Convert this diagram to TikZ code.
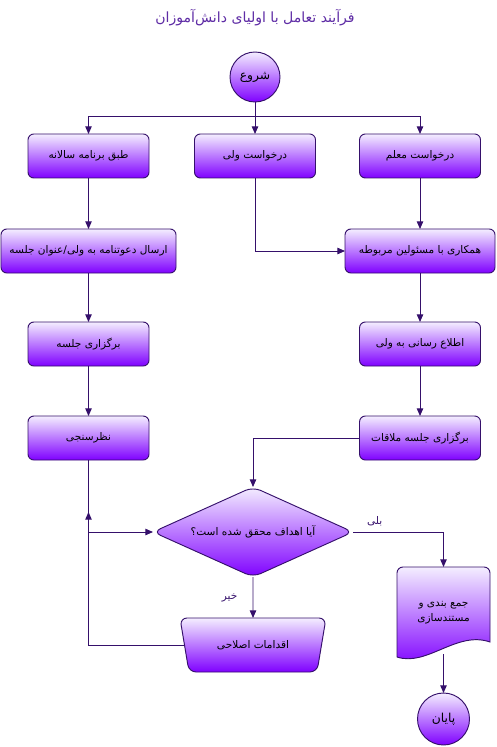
\documentclass[tikz,border=0pt]{standalone}
\usepackage{fontspec}
\usepackage{tikz}
\usepackage{xcolor}
\usetikzlibrary{positioning, arrows.meta, shapes.geometric, backgrounds}
\newfontfamily\arabicfont[Script=Arabic]{DejaVu Sans}
\TeXXeTstate=1
\newcommand{\fatxt}[1]{\beginR #1\endR}
\definecolor{Flow_Top}{HTML}{F4EEFF}
\definecolor{Flow_Bottom}{HTML}{7F00FF}
\definecolor{Flow_Line}{HTML}{35106B}
\definecolor{Flow_Title}{HTML}{5E2CA5}

\begin{document}
\begin{tikzpicture}[
  every node/.style={font=\arabicfont\fontsize{9}{13}\selectfont, inner sep=2pt, outer sep=0pt},
  fill step/.style={draw=Flow_Line, line width=0.8pt, top color=Flow_Top, bottom color=Flow_Bottom},
  box/.style={fill step, rounded corners=5pt, minimum height=1.32cm, minimum width=3.63cm},
  wide box/.style={box, minimum width=5.25cm},
  mid box/.style={box, minimum width=4.5cm},
  terminal/.style={fill step, circle, minimum size=1.5cm, font=\arabicfont\fontsize{10.5}{12}\selectfont},
  decision/.style={fill step, diamond, rounded corners=7pt, minimum width=6cm, minimum height=2.7cm, aspect=2.2, inner sep=0pt},
  manual/.style={fill step, trapezium, shape border rotate=180, trapezium angle=69, trapezium stretches=true, rounded corners=6pt, minimum width=4.41cm, minimum height=1.62cm},
  wire/.style={line width=0.8pt, Flow_Line},
  arr/.style={wire, -{Triangle[length=6.5pt, width=5.5pt]}}
]
  \useasboundingbox (0,0) rectangle (14.88,-22.41);

  % Title
  \node[font=\arabicfont\fontsize{12}{14}\selectfont, text=Flow_Title] (title) at (7.65,-0.54) {\fatxt{فرآیند تعامل با اولیای دانش‌آموزان}};

  % Start and the three triggers
  \node[terminal] (start) at (7.65,-2.31) {\fatxt{شروع}};
  \node[box] (annual) at (2.655,-4.68) {\fatxt{طبق برنامه سالانه}};
  \node[box] (parreq) at (7.65,-4.68) {\fatxt{درخواست ولی}};
  \node[box] (tchreq) at (12.6,-4.68) {\fatxt{درخواست معلم}};

  % Left column
  \node[wide box, below=1.53cm of annual] (invite) {\fatxt{ارسال دعوتنامه به ولی/عنوان جلسه}};
  \node[box, below=1.47cm of invite] (session) {\fatxt{برگزاری جلسه}};
  \node[box, below=1.5cm of session] (survey) {\fatxt{نظرسنجی}};

  % Right column
  \node[mid box, below=1.53cm of tchreq] (coop) {\fatxt{همکاری با مسئولین مربوطه}};
  \node[box, below=1.47cm of coop] (inform) {\fatxt{اطلاع رسانی به ولی}};
  \node[box, below=1.5cm of inform] (meeting) {\fatxt{برگزاری جلسه ملاقات}};

  % Decision and outcomes
  \node[decision] (goal) at (7.59,-15.96) {\fatxt{آیا اهداف محقق شده است؟}};
  \node[manual] (fix) at (7.59,-19.35) {\fatxt{اقدامات اصلاحی}};
  \node[align=center, minimum width=2.79cm, minimum height=2.76cm] (docu) at (13.305,-18.39) {\fatxt{جمع بندی و}\\\fatxt{مستندسازی}};
  \begin{scope}[on background layer]
    \draw[fill step] ([yshift=0.06cm]docu.south west) -- ([yshift=-0.18cm]docu.north west)
      arc[start angle=180, end angle=90, radius=0.18cm] -- ([xshift=-0.18cm]docu.north east)
      arc[start angle=90, end angle=0, radius=0.18cm] -- ([yshift=0.51cm]docu.south east)
      .. controls +(-1.0,0.35) and +(0.9,-0.3) .. ([yshift=0.06cm]docu.south west) -- cycle;
  \end{scope}
  \node[terminal, minimum size=1.56cm] (finish) at (13.305,-21.57) {\fatxt{پایان}};

  % Connections
  \coordinate (split) at (7.65,-3.48);
  \draw[wire] (start.south) -- (split);
  \draw[arr] (split) -| (annual.north);
  \draw[arr] (split) -- (parreq.north);
  \draw[arr] (split) -| (tchreq.north);

  \draw[arr] (annual.south) -- (invite.north);
  \draw[arr] (invite.south) -- (session.north);
  \draw[arr] (session.south) -- (survey.north);

  \draw[arr] (parreq.south) |- (coop.west);
  \draw[arr] (tchreq.south) -- (coop.north);
  \draw[arr] (coop.south) -- (inform.north);
  \draw[arr] (inform.south) -- (meeting.north);

  \draw[arr] (meeting.west) -| (goal.north);
  \draw[arr] (survey.south) |- (goal.west);
  \draw[arr] (goal.east) -| node[above, pos=0.12, yshift=0.12cm] {\fatxt{بلی}} (docu.north);
  \draw[arr] (goal.south) -- node[left, pos=0.5, xshift=-0.4cm] {\fatxt{خیر}} (fix.north);

  % Loop back from corrective actions
  \coordinate (back) at (2.655,-15.36);
  \draw[arr] (fix.west) -| (back);
  \draw[arr] ([yshift=0.15cm]docu.south) -- (finish.north);
\end{tikzpicture}
\end{document}
